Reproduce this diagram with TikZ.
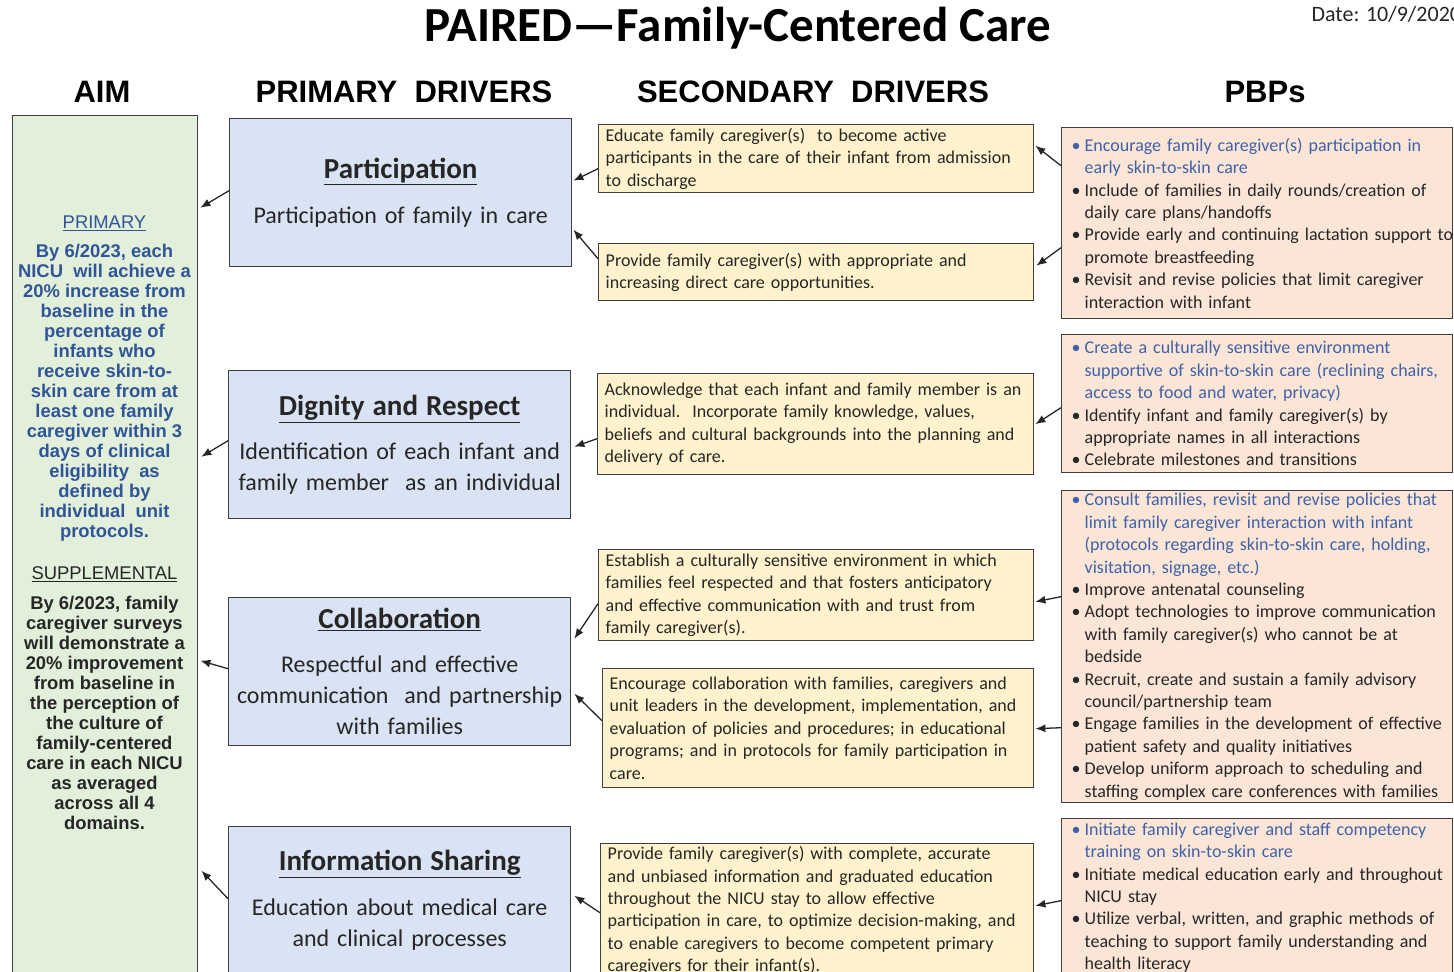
\documentclass[tikz,border=0pt]{standalone}
\usepackage{fontspec}
\setmainfont{Carlito}
\newfontfamily\aimfont{Liberation Sans}
\usetikzlibrary{arrows.meta,calc}
\definecolor{aimgreen}{HTML}{E2EFDA}
\definecolor{driverblue}{HTML}{DAE3F3}
\definecolor{secyellow}{HTML}{FFF2CC}
\definecolor{pbppeach}{HTML}{FBE5D6}
\definecolor{boxline}{HTML}{3F3F3F}
\definecolor{goalblue}{HTML}{2F5597}
\definecolor{pbpblue}{HTML}{3F62A8}
\definecolor{bodytext}{HTML}{262626}
\newcommand{\pbpitem}[1]{\makebox[13pt][l]{\textbullet}\mbox{#1}}
\newcommand{\pbpcont}[1]{\hspace*{13pt}\mbox{#1}}
\newcommand{\drivertitle}[1]{{\fontsize{29}{31}\selectfont\bfseries\underline{#1}}}

\begin{document}
\begin{tikzpicture}[x=1pt,y=-1pt,
  box/.style={draw=boxline,line width=1.4pt,anchor=north west,inner sep=0pt},
  aimbox/.style={box,fill=aimgreen,minimum width=185pt,minimum height=870pt},
  aimtext/.style={align=center,inner sep=0pt,font=\aimfont\bfseries\fontsize{18.4}{20}\selectfont},
  primbox/.style={box,fill=driverblue,minimum width=342pt,minimum height=148pt,text width=342pt,
    align=center,text=bodytext,font=\fontsize{24}{31}\selectfont},
  secbox/.style={box,fill=secyellow,inner xsep=7pt,align=left,text=bodytext,
    font=\fontsize{18}{22.4}\selectfont},
  pbpbox/.style={box,fill=pbppeach,inner xsep=10pt,text width=371pt,align=left,text=bodytext,
    font=\fontsize{18}{22.4}\selectfont},
  head/.style={font=\aimfont\bfseries\fontsize{31}{36}\selectfont},
  arr/.style={-{Latex[length=10pt,width=8pt]},line width=1.3pt,draw=black!85}]
  \useasboundingbox (0,0) rectangle (1454,972);

  \node (title) at (738,28) {\fontsize{49}{52}\selectfont\bfseries PAIRED—Family-Centered Care};
  \node[anchor=west,text=bodytext] (date) at (1308,14) {\fontsize{22}{26}\selectfont Date: 10/9/2020};

  \node[head] (aimhead) at (102,92) {AIM};
  \node[head] (primhead) at (404,92) {PRIMARY\ \ DRIVERS};
  \node[head] (sechead) at (813,92) {SECONDARY\ \ DRIVERS};
  \node[head] (pbphead) at (1265,92) {PBPs};

  \node[aimbox] (aim) at (12,115) {};
  \node[aimtext,text=goalblue] (primgoal) at (104.5,379) {{\mdseries\underline{PRIMARY}}\\[9pt]
    By 6/2023, each\\ NICU\ \ will achieve a\\ 20\% increase from\\ baseline in the\\ percentage of\\
    infants who\\ receive skin-to-\\ skin care from at\\ least one family\\ caregiver within 3\\
    days of clinical\\ eligibility\ \ as\\ defined by\\ individual\ \ unit\\ protocols.};
  \node[aimtext,text=bodytext] (supgoal) at (104.5,698) {{\mdseries\underline{SUPPLEMENTAL}}\\[10pt]
    By 6/2023, family\\ caregiver surveys\\ will demonstrate a\\ 20\% improvement\\ from baseline in\\
    the perception of\\ the culture of\\ family-centered\\ care in each NICU\\ as averaged\\
    across all 4\\ domains.};

  \node[primbox] (p1) at (229,118) {\drivertitle{Participation}\\[14pt]
    Participation of family in care};
  \node[primbox] (p2) at (228,370) {\drivertitle{Dignity and Respect}\\[13pt]
    Identification of each infant and\\ family member\ \ as an individual};
  \node[primbox] (p3) at (228,597) {\drivertitle{Collaboration}\\[13pt]
    Respectful and effective\\ communication\ \ and partnership\\ with families};
  \node[primbox] (p4) at (228,826) {\drivertitle{Information Sharing}\\[14pt]
    Education about medical care\\ and clinical processes};

  \node[secbox,text width=421pt,minimum height=68pt] (s1) at (598,124) {Educate family caregiver(s)\ \ to become active\\
    \mbox{participants in the care of their infant from admission}\\ to discharge};
  \node[secbox,text width=421pt,minimum height=57pt] (s2) at (598,243) {Provide family caregiver(s) with appropriate and\\
    increasing direct care opportunities.};
  \node[secbox,text width=422pt,minimum height=101pt] (s3) at (597,373) {\mbox{Acknowledge that each infant and family member is an}\\
    individual.\ \ Incorporate family knowledge, values,\\
    \mbox{beliefs and cultural backgrounds into the planning and}\\ delivery of care.};
  \node[secbox,text width=421pt,minimum height=91pt] (s4) at (598,549) {\mbox{Establish a culturally sensitive environment in which}\\
    \mbox{families feel respected and that fosters anticipatory}\\
    and effective communication with and trust from\\ family caregiver(s).};
  \node[secbox,text width=417pt,minimum height=119pt] (s5) at (602,668) {\mbox{Encourage collaboration with families, caregivers and}\\
    \mbox{unit leaders in the development, implementation, and}\\
    \mbox{evaluation of policies and procedures; in educational}\\
    \mbox{programs; and in protocols for family participation in}\\ care.};
  \node[secbox,text width=419pt,minimum height=134pt] (s6) at (600,843) {Provide family caregiver(s) with complete, accurate\\
    \mbox{and unbiased information and graduated education}\\
    throughout the NICU stay to allow effective\\
    \mbox{participation in care, to optimize decision-making, and}\\
    \mbox{to enable caregivers to become competent primary}\\ caregivers for their infant(s).};

  \node[pbpbox,minimum height=191pt] (b1) at (1061,127) {\color{pbpblue}\pbpitem{Encourage family caregiver(s) participation in}\\
    \pbpcont{early skin-to-skin care}\\
    \color{bodytext}\pbpitem{Include of families in daily rounds/creation of}\\
    \pbpcont{daily care plans/handoffs}\\
    \pbpitem{Provide early and continuing lactation support to}\\
    \pbpcont{promote breastfeeding}\\
    \pbpitem{Revisit and revise policies that limit caregiver}\\
    \pbpcont{interaction with infant}};
  \node[pbpbox,minimum height=138pt] (b2) at (1061,334) {\color{pbpblue}\pbpitem{Create a culturally sensitive environment}\\
    \pbpcont{supportive of skin-to-skin care (reclining chairs,}\\
    \pbpcont{access to food and water, privacy)}\\
    \color{bodytext}\pbpitem{Identify infant and family caregiver(s) by}\\
    \pbpcont{appropriate names in all interactions}\\
    \pbpitem{Celebrate milestones and transitions}};
  \node[pbpbox,minimum height=312pt] (b3) at (1061,490) {\color{pbpblue}\pbpitem{Consult families, revisit and revise policies that}\\
    \pbpcont{limit family caregiver interaction with infant}\\
    \pbpcont{(protocols regarding skin-to-skin care, holding,}\\
    \pbpcont{visitation, signage, etc.)}\\
    \color{bodytext}\pbpitem{Improve antenatal counseling}\\
    \pbpitem{Adopt technologies to improve communication}\\
    \pbpcont{with family caregiver(s) who cannot be at}\\
    \pbpcont{bedside}\\
    \pbpitem{Recruit, create and sustain a family advisory}\\
    \pbpcont{council/partnership team}\\
    \pbpitem{Engage families in the development of effective}\\
    \pbpcont{patient safety and quality initiatives}\\
    \pbpitem{Develop uniform approach to scheduling and}\\
    \pbpcont{staffing complex care conferences with families}};
  \node[pbpbox,minimum height=158pt] (b4) at (1061,818) {\color{pbpblue}\pbpitem{Initiate family caregiver and staff competency}\\
    \pbpcont{training on skin-to-skin care}\\
    \color{bodytext}\pbpitem{Initiate medical education early and throughout}\\
    \pbpcont{NICU stay}\\
    \pbpitem{Utilize verbal, written, and graphic methods of}\\
    \pbpcont{teaching to support family understanding and}\\
    \pbpcont{health literacy}};

  \draw[arr] ($(p1.west)+(0,-2)$) -- ($(aim.east |- p1.west)+(2,15)$);
  \draw[arr] ($(p2.west)+(0,-4)$) -- ($(aim.east |- p2.west)+(3,12)$);
  \draw[arr] ($(p3.west)+(0,-3)$) -- ($(aim.east |- p3.west)+(2,-11)$);
  \draw[arr] ($(p4.west)+(0,-2)$) -- ($(aim.east |- p4.west)+(3,-30)$);

  \draw[arr] ($(s1.west)+(0,10)$) -- ($(p1.east)+(1,-12)$);
  \draw[arr] ($(s2.west)+(0,-13.5)$) -- ($(p1.east)+(1,37)$);
  \draw[arr] ($(s3.west)+(0,14.5)$) -- ($(p2.east)+(3,2)$);
  \draw[arr] ($(s4.west)+(0,8.5)$) -- ($(p3.east)+(3,-33)$);
  \draw[arr] ($(s5.west)+(0,-7.5)$) -- ($(p3.east)+(3,22)$);
  \draw[arr] ($(s6.west)+(0,2)$) -- ($(p4.east)+(3,-5)$);

  \draw[arr] ($(b1.west)+(0,-57.5)$) -- ($(s1.east)+(1,-13)$);
  \draw[arr] ($(b1.west)+(0,24.5)$) -- ($(s2.east)+(2,-6.5)$);
  \draw[arr] ($(b2.west)+(0,4)$) -- ($(s3.east)+(1,0)$);
  \draw[arr] ($(b3.west)+(0,-50)$) -- ($(s4.east)+(1,6.5)$);
  \draw[arr] ($(b3.west)+(0,81)$) -- ($(s5.east)+(1,0.5)$);
  \draw[arr] ($(b4.west)+(0,3)$) -- ($(s6.east)+(1,-5)$);
\end{tikzpicture}
\end{document}
